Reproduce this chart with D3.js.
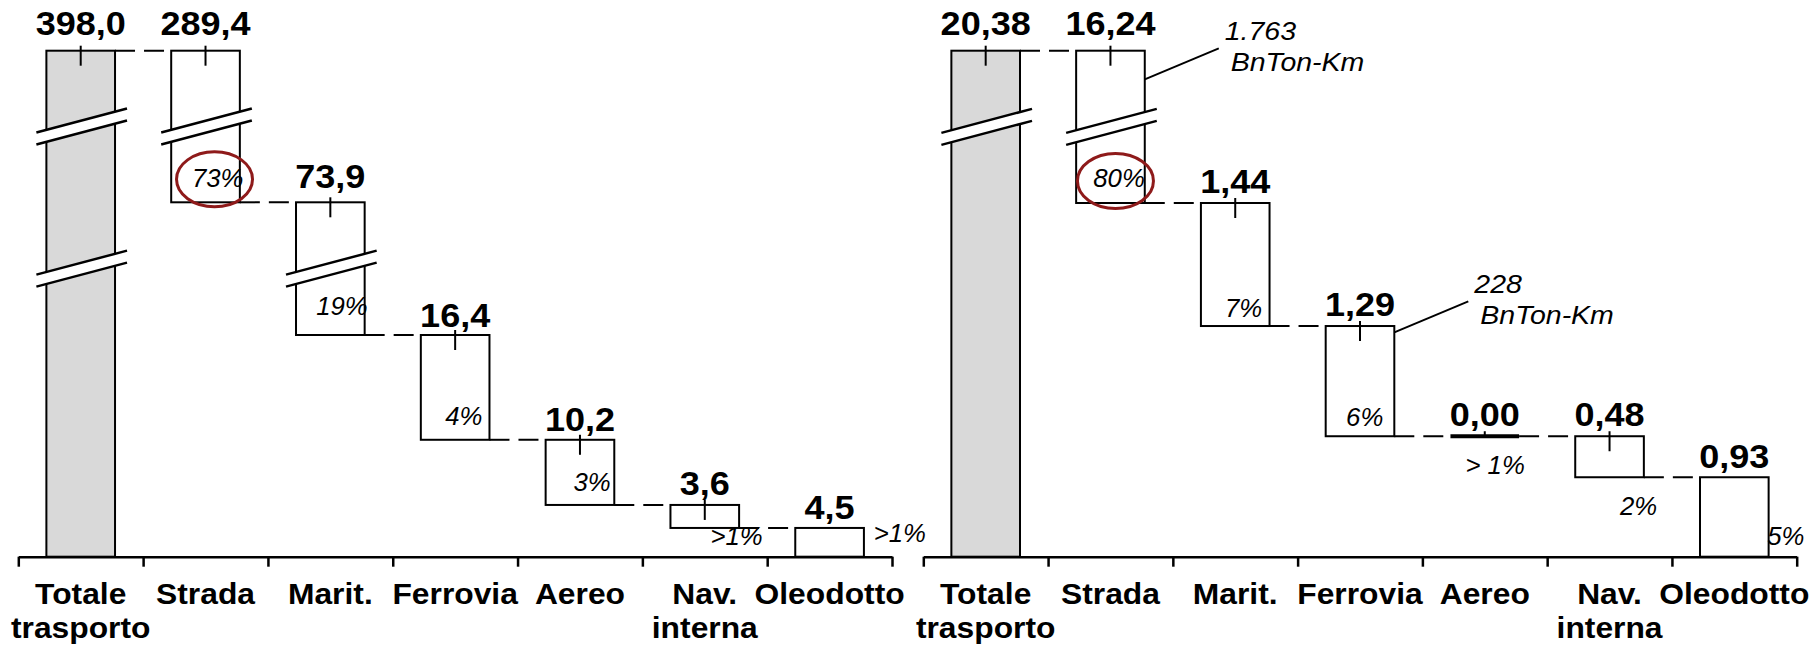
<!DOCTYPE html>
<html><head><meta charset="utf-8">
<script src="https://cdn.jsdelivr.net/npm/d3@7"></script>
<style>
html,body{margin:0;padding:0;background:#fff;}
svg{display:block;}
text{font-family:"Liberation Sans", Arial, sans-serif;fill:#000;}
</style></head><body>
<svg id="chart" width="1816" height="648"></svg>
<script>
// ---------------- DATA ----------------
const categories = ["Totale trasporto","Strada","Marit.","Ferrovia","Aereo","Nav. interna","Oleodotto"];
const categoryLines = [["Totale","trasporto"],["Strada"],["Marit."],["Ferrovia"],["Aereo"],["Nav.","interna"],["Oleodotto"]];

const valuesLeft = [398.0, 289.4, 73.9, 16.4, 10.2, 3.6, 4.5];
const valueLabelsLeft = ["398,0","289,4","73,9","16,4","10,2","3,6","4,5"];
const shareLabelsLeft = ["", "73%", "19%", "4%", "3%", ">1%", ">1%"];
const brokenLeft = ["Strada","Marit."];

const valuesRight = [20.38, 16.24, 1.44, 1.29, 0.00, 0.48, 0.93];
const valueLabelsRight = ["20,38","16,24","1,44","1,29","0,00","0,48","0,93"];
const shareLabelsRight = ["", "80%", "7%", "6%", "> 1%", "2%", "5%"];
const brokenRight = ["Strada"];

const highlightedCategory = "Strada";
const notesLeft = [];
const notesRight = [
  {cat:"Strada", lines:["1.763","BnTon-Km"]},
  {cat:"Ferrovia", lines:["228","BnTon-Km"]}
];

// ---------------- LAYOUT ----------------
const plotTop = 50.7, plotBottom = 556.7;
const layouts = [
  { x0:18.3, x1:892,
    segPx:{"Strada":151.6, "Marit.":132.7},
    labelGap:[15.5,15.5,14,8.5,9,9.5,9],
    pct:[null,[3.6,-15],[3,-20],[-7,-14.5],[-3.7,-13.6],[23.6,17.3],[62,-15]],
    ring:[9,-23], noteDy:{} },
  { x0:923.3, x1:1796.7,
    segPx:{"Strada":152.3},
    labelGap:[15.5,15.5,10.5,9.7,10,10,9.7],
    pct:[null,[0,-15.6],[-7.3,-9],[-11,-10.7],[5.7,37.3],[13.3,37.3],[35.7,-12]],
    ring:[5,-22], noteDy:{"Strada":28.6, "Ferrovia":6.3} }
];

const svg = d3.select("#chart");

function drawChart(values, valueLabels, shareLabels, broken, notes, L) {
  const g = svg.append("g");
  const n = values.length;
  const bottoms = values.map((v,i) => i === 0 ? 0 : d3.sum(values.slice(i+1)));
  const tops = values.map((v,i) => i === 0 ? v : bottoms[i] + v);

  // broken (piecewise) value scale
  const brokenIdx = broken.map(c => categories.indexOf(c)).sort((a,b) => bottoms[a]-bottoms[b]);
  const knots = [0];
  const spans = [];
  brokenIdx.forEach(j => {
    const last = knots[knots.length-1];
    if (bottoms[j] > last + 1e-9) { spans.push({a:last, b:bottoms[j], comp:null}); knots.push(bottoms[j]); }
    spans.push({a:bottoms[j], b:tops[j], comp:j}); knots.push(tops[j]);
  });
  if (values[0] > knots[knots.length-1] + 1e-9) { spans.push({a:knots[knots.length-1], b:values[0], comp:null}); knots.push(values[0]); }
  const compPx = d3.sum(spans.filter(s => s.comp !== null), s => L.segPx[categories[s.comp]]);
  const linUnits = d3.sum(spans.filter(s => s.comp === null), s => s.b - s.a);
  const k = (plotBottom - plotTop - compPx) / linUnits;
  const rangeKnots = [plotBottom];
  let yy = plotBottom;
  spans.forEach(s => { yy -= (s.comp !== null ? L.segPx[categories[s.comp]] : (s.b - s.a) * k); rangeKnots.push(yy); });
  const y = d3.scaleLinear().domain(knots).range(rangeKnots);

  const x = d3.scaleBand().domain(categories).range([L.x0, L.x1]).paddingInner(0.45).paddingOuter(0.225);
  const bw = x.bandwidth();
  const bounds = d3.scaleLinear().domain([0, n]).range([L.x0, L.x1]);

  // axis
  const ax = g.append("g").attr("transform", `translate(0,${plotBottom})`)
    .call(d3.axisBottom(bounds).tickValues(d3.range(n+1)).tickSize(10).tickSizeOuter(0).tickFormat(""));
  ax.selectAll("path,line").attr("stroke", "#000").attr("stroke-width", 2.5);

  // connectors
  for (let i = 0; i < n-1; i++) {
    const lev = y(tops[i+1]);
    g.append("line")
      .attr("x1", x(categories[i]) + bw).attr("x2", x(categories[i+1]))
      .attr("y1", lev).attr("y2", lev)
      .attr("stroke", "#000").attr("stroke-width", 2).attr("stroke-dasharray", "20,9");
  }

  // bars
  categories.forEach((c, i) => {
    const yt = y(tops[i]), yb = y(bottoms[i]);
    if (yb - yt < 0.5) {
      g.append("line").attr("x1", x(c)).attr("x2", x(c) + bw).attr("y1", yt).attr("y2", yt)
        .attr("stroke", "#000").attr("stroke-width", 4);
    } else {
      g.append("rect").attr("x", x(c)).attr("y", yt).attr("width", bw).attr("height", yb - yt)
        .attr("fill", i === 0 ? "#D9D9D9" : "#fff").attr("stroke", "#000").attr("stroke-width", 2);
    }
  });

  // break marks at middle of each compressed segment
  const half = 12;
  spans.filter(s => s.comp !== null).forEach(s => {
    const m = (s.a + s.b) / 2, ym = y(m);
    categories.forEach((c, i) => {
      if (bottoms[i] < m && tops[i] > m) {
        const xl = x(c) - 10, xr = x(c) + bw + 12;
        const l1 = [[xl, ym - 6 + half], [xr, ym - 6 - half]];
        const l2 = [[xl, ym + 6 + half], [xr, ym + 6 - half]];
        g.append("polygon").attr("points", [l1[0], l1[1], l2[1], l2[0]].map(p => p.join(",")).join(" "))
          .attr("fill", "#fff").attr("stroke", "none");
        [l1, l2].forEach(l => g.append("line")
          .attr("x1", l[0][0]).attr("y1", l[0][1]).attr("x2", l[1][0]).attr("y2", l[1][1])
          .attr("stroke", "#000").attr("stroke-width", 2.5));
      }
    });
  });

  // small top ticks
  categories.forEach((c, i) => {
    if (i === n-1) return;
    const yt = y(tops[i]), yb = y(bottoms[i]);
    const cx = x(c) + bw/2;
    g.append("line").attr("x1", cx).attr("x2", cx).attr("y1", yt - 5).attr("y2", Math.min(yt + 15, yb))
      .attr("stroke", "#000").attr("stroke-width", 2);
  });

  // value labels
  categories.forEach((c, i) => {
    const cx = x(c) + bw/2, yt = y(tops[i]) - L.labelGap[i];
    g.append("text").attr("transform", `translate(${cx},${yt}) scale(1.06,1)`)
      .attr("text-anchor", "middle").attr("font-weight", "bold").attr("font-size", 34)
      .text(valueLabels[i]);
  });

  // share labels
  categories.forEach((c, i) => {
    if (!shareLabels[i] || !L.pct[i]) return;
    const px = x(c) + bw + L.pct[i][0], py = y(bottoms[i]) + L.pct[i][1];
    g.append("text").attr("transform", `translate(${px},${py}) scale(1.03,1)`)
      .attr("text-anchor", "end").attr("font-style", "italic").attr("font-size", 25)
      .text(shareLabels[i]);
  });

  // highlight ring
  const hi = categories.indexOf(highlightedCategory);
  g.append("ellipse")
    .attr("cx", x(highlightedCategory) + bw/2 + L.ring[0])
    .attr("cy", y(bottoms[hi]) + L.ring[1])
    .attr("rx", 38).attr("ry", 27.5)
    .attr("fill", "none").attr("stroke", "#8E1A1A").attr("stroke-width", 3);

  // notes
  notes.forEach(nt => {
    const i = categories.indexOf(nt.cat);
    const sx = x(nt.cat) + bw, sy = y(tops[i]) + L.noteDy[nt.cat];
    const ex = sx + 74, ey = sy - 31;
    g.append("line").attr("x1", sx).attr("y1", sy).attr("x2", ex).attr("y2", ey)
      .attr("stroke", "#000").attr("stroke-width", 2);
    g.append("text").attr("transform", `translate(${ex + 6},${ey - 8}) scale(1.14,1)`)
      .attr("font-style", "italic").attr("font-size", 25).text(nt.lines[0]);
    g.append("text").attr("transform", `translate(${ex + 12},${ey + 22.5}) scale(1.14,1)`)
      .attr("font-style", "italic").attr("font-size", 25).text(nt.lines[1]);
  });

  // category labels
  categories.forEach((c, i) => {
    const cx = x(c) + bw/2;
    categoryLines[i].forEach((ln, j) => {
      g.append("text").attr("transform", `translate(${cx},${plotBottom + 47 + j*34}) scale(1.06,1)`)
        .attr("text-anchor", "middle").attr("font-weight", "bold").attr("font-size", 30)
        .text(ln);
    });
  });
}

drawChart(valuesLeft, valueLabelsLeft, shareLabelsLeft, brokenLeft, notesLeft, layouts[0]);
drawChart(valuesRight, valueLabelsRight, shareLabelsRight, brokenRight, notesRight, layouts[1]);
</script>
</body></html>
